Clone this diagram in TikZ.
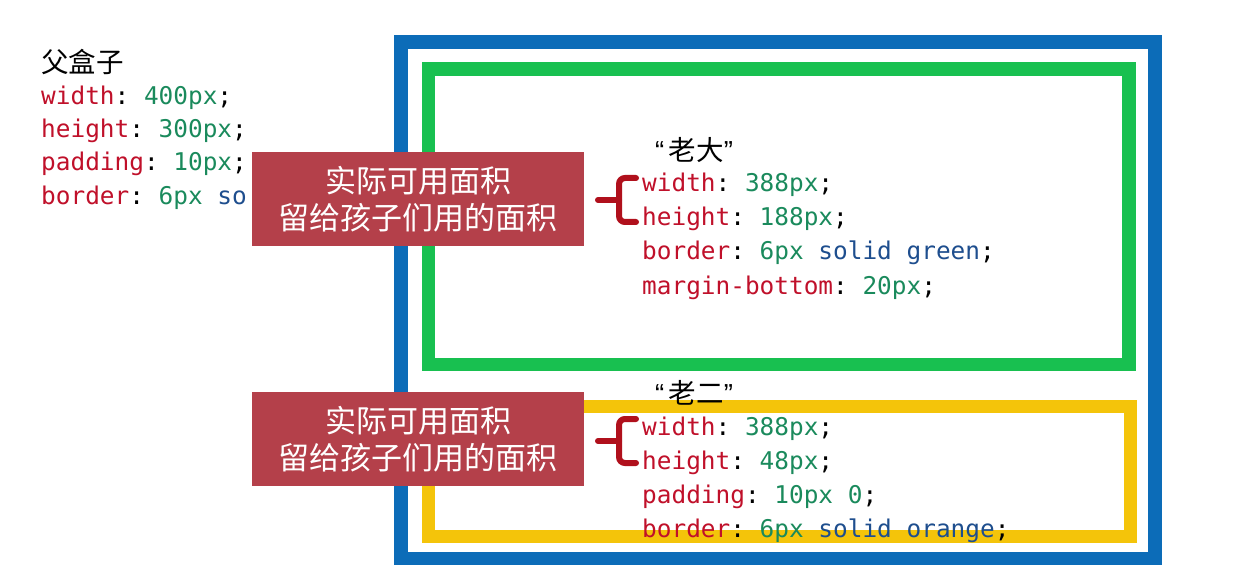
\documentclass[tikz,border=0pt]{standalone}
\usepackage{fontspec}
\usepackage{xcolor}
\usetikzlibrary{positioning}
\setmonofont{DejaVu Sans Mono}
\newfontfamily\cjk{Noto Sans CJK SC}
\newfontfamily\quotefont{Liberation Sans}
\definecolor{parentblue}{RGB}{12,108,184}
\definecolor{kidgreen}{RGB}{24,192,80}
\definecolor{kidyellow}{RGB}{244,196,10}
\definecolor{tagred}{RGB}{180,64,74}
\definecolor{bracered}{RGB}{176,16,28}
\definecolor{propred}{RGB}{192,16,42}
\definecolor{valgreen}{RGB}{26,138,92}
\definecolor{keyblue}{RGB}{30,78,142}
\newcommand\cssprop[1]{\textcolor{propred}{#1}}
\newcommand\cssval[1]{\textcolor{valgreen}{#1}}
\newcommand\csskey[1]{\textcolor{keyblue}{#1}}
\tikzset{
  parentBox/.style={draw=parentblue, line width=13.5pt},  % outer box
  kidA/.style={draw=kidgreen, line width=13.5pt},         % first child
  kidB/.style={draw=kidyellow, line width=13pt},          % second child
  codeLine/.style={anchor=base west, inner sep=0pt, font=\ttfamily\fontsize{24.4}{34}\selectfont},
  title/.style={anchor=base west, inner sep=0pt, font=\cjk\fontsize{27.5}{30}\selectfont},
  areaTag/.style={fill=tagred, text=white, minimum width=332pt, minimum height=94pt,
    inner sep=0pt, align=center, font=\cjk\fontsize{31}{37}\selectfont},
  codeBrace/.style={draw=bracered, line width=6pt, rounded corners=6pt, line cap=round}
}
\begin{document}
\begin{tikzpicture}[x=1pt,y=-1pt]
  \useasboundingbox[fill=white] (0,0) rectangle (1260,569);

  % boxes
  \draw[parentBox] (401,42) rectangle (1155,558.5);
  \draw[kidA] (428.5,69) rectangle (1129,364.5);
  \draw[kidB] (428.5,406.5) rectangle (1130,536.5);

  % parent rules
  \node[title] (parentName) at (41,73) {父盒子};
  \node[codeLine] (pw) at (41,105) {\cssprop{width}: \cssval{400px};};
  \node[codeLine] (ph) at (41,138) {\cssprop{height}: \cssval{300px};};
  \node[codeLine] (pp) at (41,171) {\cssprop{padding}: \cssval{10px};};
  \node[codeLine] (pb) at (41,205) {\cssprop{border}: \cssval{6px} \csskey{so}};

  % first child rules
  \node[title] (kidAName) at (655,161) {{\quotefont “\,}老大{\quotefont ”}};
  \node[codeLine] (aw) at (642,192) {\cssprop{width}: \cssval{388px};};
  \node[codeLine] (ah) at (642,226) {\cssprop{height}: \cssval{188px};};
  \node[codeLine] (ab) at (642,260) {\cssprop{border}: \cssval{6px} \csskey{solid green};};
  \node[codeLine] (am) at (642,294) {\cssprop{margin-bottom}: \cssval{20px};};

  % second child rules
  \node[title] (kidBName) at (655,403) {{\quotefont “\,}老二{\quotefont ”}};
  \node[codeLine] (bw) at (642,435) {\cssprop{width}: \cssval{388px};};
  \node[codeLine] (bh) at (642,469) {\cssprop{height}: \cssval{48px};};
  \node[codeLine] (bp) at (642,503) {\cssprop{padding}: \cssval{10px 0};};
  \node[codeLine] (bb) at (642,537) {\cssprop{border}: \cssval{6px} \csskey{solid orange};};

  % tags
  \node[areaTag] (tagA) at (418,199) {实际可用面积\\留给孩子们用的面积};
  \node[areaTag] (tagB) at (418,439) {实际可用面积\\留给孩子们用的面积};

  % braces
  \foreach \by in {200,441} {
    \draw[codeBrace] (636,\by-22) -| (619,\by) |- (636,\by+22);
    \draw[codeBrace] (619,\by) -- (598,\by);
  }
\end{tikzpicture}
\end{document}
